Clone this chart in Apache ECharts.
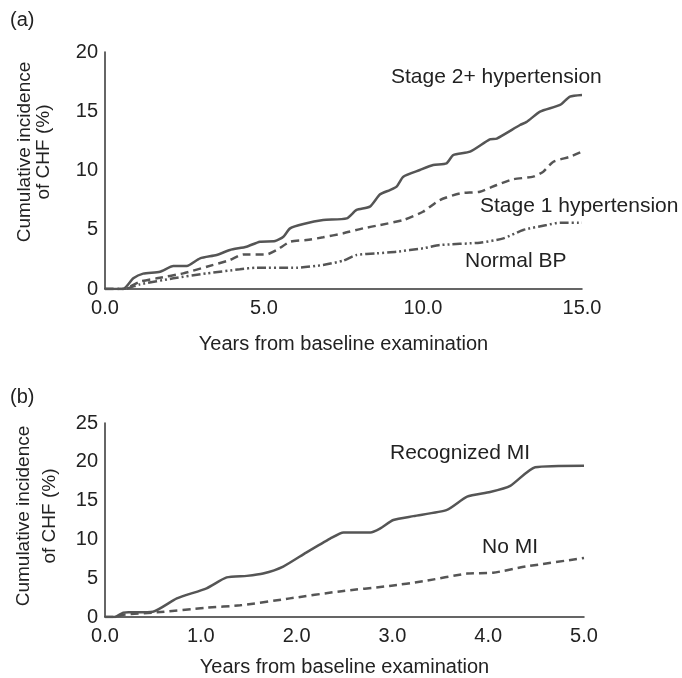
<!DOCTYPE html>
<html>
<head>
<meta charset="utf-8">
<script src="https://cdn.jsdelivr.net/npm/echarts@6/dist/echarts.min.js"></script>
<style>
  html, body { margin: 0; padding: 0; background: #fff; }
  #chart { width: 682px; height: 678px; }
</style>
</head>
<body>
<div id="chart"></div>
<script>
// panel (a): blood pressure groups, years 0-15
var stage2X = [0, 0.57, 0.89, 1.2, 1.73, 2.15, 2.57, 2.99, 3.51, 3.93, 4.45, 4.87, 5.35, 5.61, 5.82, 6.24, 6.86, 7.6, 7.91, 8.33, 8.65, 8.96, 9.17, 9.38, 9.9, 10.32, 10.74, 10.95, 11.48, 12.1, 12.32, 13.05, 13.26, 13.68, 14.31, 14.62, 15.0];
var stage2Y = [0, 0, 0.9, 1.3, 1.46, 1.94, 1.94, 2.59, 2.87, 3.29, 3.57, 3.99, 4.05, 4.41, 5.12, 5.49, 5.82, 5.96, 6.67, 6.95, 7.99, 8.35, 8.64, 9.48, 10.04, 10.46, 10.6, 11.3, 11.59, 12.63, 12.7, 13.84, 14.1, 14.96, 15.53, 16.23, 16.37];

var stage1X = [0, 0.57, 1.1, 1.63, 2.46, 3.2, 3.93, 4.35, 5.08, 5.4, 5.82, 6.34, 6.86, 7.49, 8.12, 8.65, 9.38, 10.0, 10.53, 11.16, 11.79, 12.32, 12.84, 13.47, 13.78, 14.1, 14.62, 15.0];
var stage1Y = [0, 0, 0.62, 0.9, 1.32, 1.88, 2.45, 2.92, 2.92, 3.29, 3.99, 4.13, 4.36, 4.7, 5.12, 5.4, 5.82, 6.52, 7.51, 8.07, 8.21, 8.78, 9.26, 9.48, 9.9, 10.74, 11.16, 11.59];

var normalX = [0, 0.6, 1.1, 2.15, 3.2, 4.24, 4.77, 6.03, 6.86, 7.49, 7.91, 8.54, 9.17, 10.0, 10.53, 11.79, 12.53, 13.15, 13.89, 14.31, 15.0];
var normalY = [0, 0, 0.39, 0.9, 1.32, 1.66, 1.8, 1.8, 2.03, 2.39, 2.87, 3.01, 3.15, 3.43, 3.71, 3.91, 4.27, 4.98, 5.4, 5.6, 5.6];

// panel (b): MI groups, years 0-5
var miX = [0, 0.1, 0.19, 0.26, 0.5, 0.75, 1.06, 1.27, 1.48, 1.65, 1.86, 2.1, 2.35, 2.49, 2.77, 2.87, 3.01, 3.22, 3.57, 3.78, 4.02, 4.23, 4.49, 5.0];
var miY = [0, 0, 0.56, 0.6, 0.69, 2.4, 3.7, 5.1, 5.3, 5.6, 6.5, 8.3, 10.1, 10.9, 10.9, 11.4, 12.5, 13.0, 13.8, 15.5, 16.1, 16.9, 19.3, 19.5];

var noMiX = [0, 0.1, 0.19, 0.54, 1.06, 1.41, 1.93, 2.45, 2.97, 3.32, 3.78, 4.05, 4.39, 5.0];
var noMiY = [0, 0, 0.3, 0.6, 1.2, 1.5, 2.4, 3.3, 4.0, 4.6, 5.6, 5.7, 6.5, 7.6];

var xTitle = 'Years from baseline examination';
var yTitle = 'Cumulative incidence\nof CHF (%)';

function pairs(xs, ys) {
  return xs.map(function (x, i) { return [x, ys[i]]; });
}

var font = 'Liberation Sans, Arial, Helvetica, sans-serif';
var ink = '#222';
var lineColor = '#555';

function xAxisFor(idx, max, step, gap) {
  return {
    type: 'value', gridIndex: idx, min: 0, max: max, interval: step,
    name: xTitle, nameLocation: 'middle', nameGap: gap,
    nameTextStyle: { fontFamily: font, fontSize: 20, color: ink },
    axisLine: { show: true, lineStyle: { color: '#333', width: 1.5 } },
    axisTick: { show: false },
    splitLine: { show: false },
    axisLabel: {
      fontFamily: font, fontSize: 20, color: ink, margin: 9,
      formatter: function (v) { return v.toFixed(1); }
    }
  };
}

function yAxisFor(idx, max) {
  return {
    type: 'value', gridIndex: idx, min: 0, max: max, interval: 5,
    axisLine: { show: true, lineStyle: { color: '#333', width: 1.5 } },
    axisTick: { show: false },
    splitLine: { show: false },
    axisLabel: { fontFamily: font, fontSize: 20, color: ink, margin: 7 }
  };
}

function line(name, idx, data, dash) {
  return {
    name: name, type: 'line', xAxisIndex: idx, yAxisIndex: idx,
    data: data, symbol: 'none', smooth: 0.2,
    lineStyle: { color: lineColor, width: 2.5, type: dash }
  };
}

function label(text, x, y, extra) {
  var style = { text: text, fontFamily: font, fontSize: 20, fill: ink,
    textVerticalAlign: 'middle' };
  for (var k in extra) style[k] = extra[k];
  return { type: 'text', x: x, y: y, style: style, silent: true };
}

var chart = echarts.init(document.getElementById('chart'), null, { renderer: 'canvas' });
chart.setOption({
  animation: false,
  backgroundColor: '#fff',
  grid: [
    { left: 105, top: 52, width: 477, height: 237 },
    { left: 105, top: 423, width: 479, height: 194 }
  ],
  xAxis: [xAxisFor(0, 15, 5, 45), xAxisFor(1, 5, 1, 40)],
  yAxis: [yAxisFor(0, 20), yAxisFor(1, 25)],
  series: [
    line('Stage 2+ hypertension', 0, pairs(stage2X, stage2Y), 'solid'),
    line('Stage 1 hypertension', 0, pairs(stage1X, stage1Y), [8, 5]),
    line('Normal BP', 0, pairs(normalX, normalY), [9, 3, 2, 3, 2, 3]),
    line('Recognized MI', 1, pairs(miX, miY), 'solid'),
    line('No MI', 1, pairs(noMiX, noMiY), [8, 5])
  ],
  graphic: [
    label('(a)', 10, 20, {}),
    label('(b)', 10, 397, {}),
    {
      type: 'text', x: 34, y: 152, rotation: Math.PI / 2, silent: true,
      style: { text: yTitle, fontFamily: font, fontSize: 19, fill: ink,
        textAlign: 'center', textVerticalAlign: 'middle', lineHeight: 19 }
    },
    {
      type: 'text', x: 37, y: 516, rotation: Math.PI / 2, silent: true,
      style: { text: yTitle, fontFamily: font, fontSize: 19, fill: ink,
        textAlign: 'center', textVerticalAlign: 'middle', lineHeight: 26 }
    },
    label('Stage 2+ hypertension', 391, 77, { fontSize: 21 }),
    label('Stage 1 hypertension', 480, 206, { fontSize: 21 }),
    label('Normal BP', 465, 261, { fontSize: 21 }),
    label('Recognized MI', 390, 453, { fontSize: 21 }),
    label('No MI', 482, 547, { fontSize: 21 })
  ]
});
</script>
</body>
</html>
